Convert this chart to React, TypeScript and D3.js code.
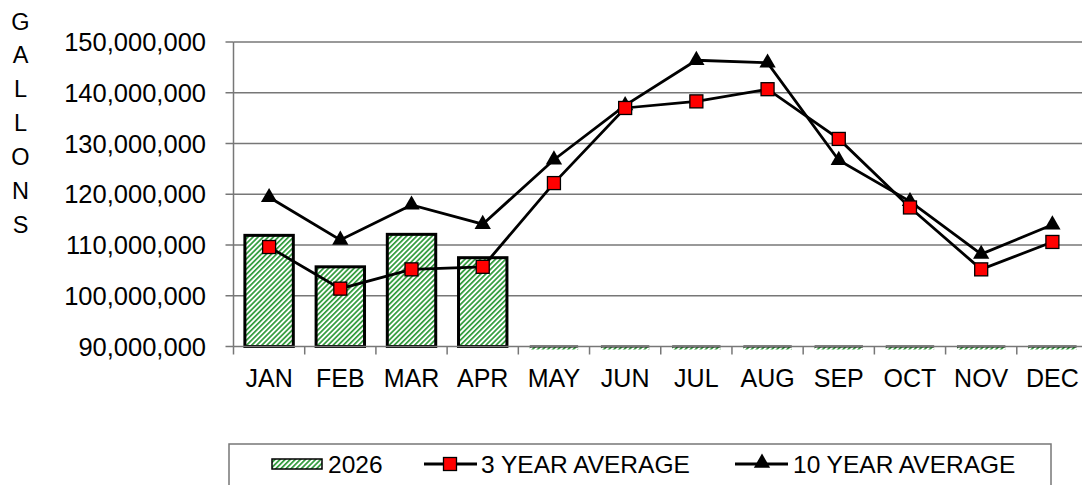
import React from 'react';
import * as d3 from 'd3';

const months = ['JAN', 'FEB', 'MAR', 'APR', 'MAY', 'JUN', 'JUL', 'AUG', 'SEP', 'OCT', 'NOV', 'DEC'];
// 2026 monthly gallons (only Jan-Apr recorded so far)
const current = [111.9e6, 105.7e6, 112.1e6, 107.5e6, 0, 0, 0, 0, 0, 0, 0, 0];
const threeYear = [109.6e6, 101.4e6, 105.2e6, 105.7e6, 122.2e6, 137.0e6, 138.3e6, 140.7e6, 130.9e6, 117.4e6, 105.2e6, 110.6e6];
const tenYear = [119.4e6, 111.0e6, 117.9e6, 114.1e6, 126.8e6, 137.5e6, 146.4e6, 145.9e6, 126.7e6, 118.6e6, 108.2e6, 114.0e6];
const yTicks = [90e6, 100e6, 110e6, 120e6, 130e6, 140e6, 150e6];
const axisLabel = 'GALLONS';

const W = 1082;
const H = 485;
const left = 233.5;
const right = 1088;
const top = 42;
const bottom = 346.5;
const font = '"Liberation Sans", Arial, sans-serif';

const App = () => {
  const x = d3.scaleBand<string>().domain(months).range([left, right]);
  const y = d3.scaleLinear().domain([90e6, 150e6]).range([bottom, top]);
  const fmt = d3.format(',');
  const bw = x.bandwidth() * 0.68;
  const cx = (m: string) => (x(m) as number) + x.bandwidth() / 2;

  const line = d3
    .line<number>()
    .x((_, i) => cx(months[i]))
    .y((v) => y(v));

  const tri = d3.symbol().type(d3.symbolTriangle).size(115);

  return (
    <svg width={W} height={H} style={{ position: 'absolute', left: 0, top: 0, background: '#fff' }}>
      <defs>
        <pattern id="hatch" width="3.6" height="3.6" patternUnits="userSpaceOnUse" patternTransform="rotate(45)">
          <rect width="3.6" height="3.6" fill="#fff" />
          <rect width="1.7" height="3.6" fill="#2f9a3a" />
        </pattern>
      </defs>

      {/* y label */}
      {axisLabel.split('').map((c, i) => (
        <text key={i} x={20.5} y={21.5 + i * 33.9} textAnchor="middle" dominantBaseline="central"
          fontFamily={font} fontSize={23.5}>{c}</text>
      ))}

      {/* grid + y ticks */}
      {yTicks.map((t) => (
        <g key={t}>
          {t > 90e6 && <line x1={left} x2={right} y1={y(t)} y2={y(t)} stroke="#777" strokeWidth={1.5} />}
          <line x1={left - 8} x2={left} y1={y(t)} y2={y(t)} stroke="#777" strokeWidth={1.5} />
          <text x={206} y={y(t)} textAnchor="end" dominantBaseline="central" fontFamily={font} fontSize={25.5}>
            {fmt(t)}
          </text>
        </g>
      ))}
      <line x1={left} x2={left} y1={top} y2={bottom} stroke="#777" strokeWidth={1.5} />

      {/* bars */}
      {months.map((m, i) => {
        const v = Math.max(current[i], 90e6);
        const bx = cx(m) - bw / 2;
        if (current[i] <= 90e6) {
          return (
            <g key={m}>
              <rect x={bx} y={bottom} width={bw} height={3} fill="url(#hatch)" />
              <line x1={bx} x2={bx + bw} y1={bottom} y2={bottom} stroke="#000" strokeWidth={2} />
            </g>
          );
        }
        return (
          <rect key={m} x={bx} y={y(v)} width={bw} height={bottom - y(v)} fill="url(#hatch)"
            stroke="#000" strokeWidth={3} />
        );
      })}

      {/* x axis */}
      <line x1={left} x2={right} y1={bottom} y2={bottom} stroke="#777" strokeWidth={1.5} />
      {months.map((m) => (
        <g key={m}>
          <line x1={x(m)} x2={x(m)} y1={bottom} y2={bottom + 8} stroke="#777" strokeWidth={1.5} />
          <text x={cx(m)} y={378} textAnchor="middle" dominantBaseline="central" fontFamily={font} fontSize={25}>
            {m}
          </text>
        </g>
      ))}

      {/* lines */}
      <path d={line(tenYear) as string} fill="none" stroke="#000" strokeWidth={2.8} />
      <path d={line(threeYear) as string} fill="none" stroke="#000" strokeWidth={2.8} />
      {tenYear.map((v, i) => (
        <path key={i} d={tri() as string} transform={`translate(${cx(months[i])},${y(v)})`} fill="#000" />
      ))}
      {threeYear.map((v, i) => (
        <rect key={i} x={cx(months[i]) - 6.5} y={y(v) - 6.5} width={13} height={13} fill="#f00"
          stroke="#000" strokeWidth={1.3} />
      ))}

      {/* legend */}
      <rect x={229} y={444} width={822} height={60} fill="#fff" stroke="#777" strokeWidth={1.5} />
      <rect x={272} y={459} width={50} height={10} fill="url(#hatch)" stroke="#000" strokeWidth={1.5} />
      <text x={328} y={464} dominantBaseline="central" fontFamily={font} fontSize={24.5}>2026</text>
      <line x1={424} x2={477} y1={464} y2={464} stroke="#000" strokeWidth={2.8} />
      <rect x={443.5} y={457.5} width={13} height={13} fill="#f00" stroke="#000" strokeWidth={1.3} />
      <text x={481} y={464} dominantBaseline="central" fontFamily={font} fontSize={24.5}>3 YEAR AVERAGE</text>
      <line x1={735} x2={788} y1={464} y2={464} stroke="#000" strokeWidth={2.8} />
      <path d={tri() as string} transform="translate(762,463)" fill="#000" />
      <text x={793} y={464} dominantBaseline="central" fontFamily={font} fontSize={24.5}>10 YEAR AVERAGE</text>
    </svg>
  );
};

export default App;
